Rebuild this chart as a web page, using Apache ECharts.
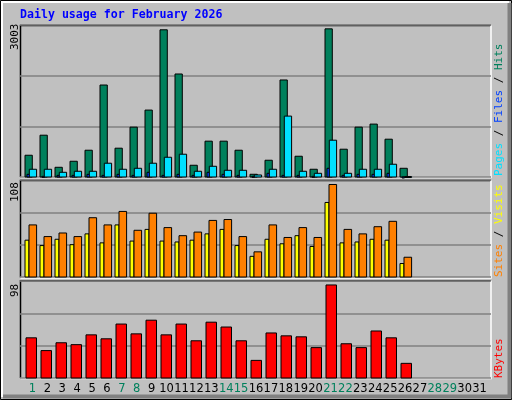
<!DOCTYPE html>
<html><head><meta charset="utf-8">
<script src="https://cdn.jsdelivr.net/npm/echarts@6/dist/echarts.min.js"></script>
<style>html,body{margin:0;padding:0;background:#c0c0c0}#c{width:512px;height:400px}</style>
</head><body><div id="c"></div>
<script>
var days = ['1','2','3','4','5','6','7','8','9','10','11','12','13','14','15','16','17','18','19','20','21','22','23','24','25','26','27','28','29','30','31'];
var weekend = ['1','7','8','14','15','21','22','28','29'];
var hits  = [430,826,192,311,529,1817,569,985,1322,2908,2035,232,708,708,529,54,331,1917,410,153,2927,549,985,1045,747,172];
var files = [53,13,33,33,53,33,53,33,93,33,53,33,93,53,33,13,73,33,33,13,172,33,53,53,73,0];
var pages = [153,153,93,113,113,272,153,172,272,390,450,113,212,133,133,40,153,1203,113,73,727,73,153,153,252,10];
var visits = [41,35,42,36,48,38,58,40,53,40,39,41,48,53,35,23,42,37,46,34,83,38,39,42,41,15];
var sites  = [58,45,49,45,66,58,73,52,71,55,46,50,63,64,45,28,58,44,55,44,103,53,48,56,62,22];
var kbytes = [40.6,27.7,35.6,33.7,43.6,39.6,54.5,44.6,58.4,43.6,54.5,37.6,56.4,51.5,37.6,17.8,45.5,42.6,41.6,30.7,94,34.6,30.7,47.5,40.6,14.8];
var yMaxTop = 3003, yMaxMid = 108, yMaxBot = 98;

function pairs(arr){ return arr.map(function(v,i){ return [i,v]; }); }
function bar(off,w,color){
  return function(params, api){
    var i = api.value(0), v = api.value(1);
    var p = api.coord([i, v]), b = api.coord([i, 0]);
    return {type:'rect', shape:{x:p[0]+off, y:p[1], width:w, height:Math.max(b[1]-p[1],1)},
      style:{fill:color, stroke:'#000', lineWidth:1}};
  };
}
var chart = echarts.init(document.getElementById('c'));
var grids = [
  {left:20, right:21, top:25, height:152},
  {left:20, right:21, top:180, height:97},
  {left:20, right:21, top:281, height:97},
  {left:25, width:462, top:378, height:1}
];
function xv(g){ return {type:'value', gridIndex:g, min:-1/3, max:-1/3+471/15, show:false}; }
function yv(g,max,iv){ return {type:'value', gridIndex:g, min:0, max:max, interval:iv,
  axisLine:{show:false}, axisTick:{show:false}, axisLabel:{show:false},
  splitLine:{show:true, lineStyle:{color:'#808080', width:1.5}}}; }
var wk = {}; weekend.forEach(function(d){ wk[d]=1; });
chart.setOption({
  animation:false,
  backgroundColor:'#c0c0c0',
  grid: grids,
  xAxis: [xv(0), xv(1), xv(2),
    {type:'category', gridIndex:3, data:days, axisLine:{show:false}, axisTick:{show:false},
     axisLabel:{margin:4, interval:0, fontFamily:'DejaVu Sans', fontSize:11.5,
       formatter:function(v){ return wk[v] ? '{g|'+v+'}' : '{b|'+v+'}'; },
       rich:{g:{color:'#00805c', fontFamily:'DejaVu Sans', fontSize:11.5}, b:{color:'#000', fontFamily:'DejaVu Sans', fontSize:11.5}}}}],
  yAxis: [yv(0,yMaxTop,1001), yv(1,yMaxMid,36), yv(2,yMaxBot,yMaxBot/3), {type:'value', gridIndex:3, show:false}],
  series: [
    {type:'custom', xAxisIndex:0, yAxisIndex:0, data:pairs(hits), renderItem:bar(0,7.3,'#00805c')},
    {type:'custom', xAxisIndex:0, yAxisIndex:0, data:pairs(files), renderItem:bar(2,2.5,'#0040ff')},
    {type:'custom', xAxisIndex:0, yAxisIndex:0, data:pairs(pages), renderItem:bar(4.3,7.3,'#00e0ff')},
    {type:'custom', xAxisIndex:1, yAxisIndex:1, data:pairs(visits), renderItem:bar(0,4,'#ffff00')},
    {type:'custom', xAxisIndex:1, yAxisIndex:1, data:pairs(sites), renderItem:bar(4,7.6,'#ff8000')},
    {type:'custom', xAxisIndex:2, yAxisIndex:2, data:pairs(kbytes), renderItem:bar(1,10.5,'#ff0000')}
  ],
  graphic: [
    {type:'rect', z:-1, shape:{x:0.5,y:0.5,width:511,height:399}, style:{fill:'none', stroke:'#000', lineWidth:1}},
    {type:'polyline', shape:{points:[[2,397],[2,2],[509,2]]}, style:{stroke:'#fff', lineWidth:2, fill:'none'}},
    {type:'polyline', shape:{points:[[3,396.5],[509.5,396.5],[509.5,3]]}, style:{stroke:'#808080', lineWidth:4, fill:'none'}},
    {type:'text', x:20, y:9, style:{text:'Daily usage for February 2026', fill:'#0000ff', font:'bold 11.6px "DejaVu Sans Mono"'}},
    // panel frames
    {type:'polyline', shape:{points:[[20.5,177],[20.5,25.5],[491,25.5]]}, style:{stroke:'#000', lineWidth:1.5, fill:'none'}},
    {type:'polyline', shape:{points:[[20.5,177.5],[491,177.5],[491,25.5]]}, style:{stroke:'#fff', lineWidth:1.5, fill:'none'}},
    {type:'polyline', shape:{points:[[20.5,277.5],[20.5,180.5],[491,180.5]]}, style:{stroke:'#000', lineWidth:1.5, fill:'none'}},
    {type:'polyline', shape:{points:[[20.5,278],[491,278],[491,180.5]]}, style:{stroke:'#fff', lineWidth:1.5, fill:'none'}},
    {type:'polyline', shape:{points:[[20.5,378],[20.5,280.8],[491,280.8]]}, style:{stroke:'#000', lineWidth:1.5, fill:'none'}},
    {type:'polyline', shape:{points:[[20.5,378.5],[491,378.5],[491,280.8]]}, style:{stroke:'#fff', lineWidth:1.5, fill:'none'}},
    // y max labels
    {type:'text', x:10, y:50, rotation:Math.PI/2, style:{text:String(yMaxTop), fill:'#000', font:'11px "DejaVu Sans Mono"', textVerticalAlign:'top'}},
    {type:'text', x:10, y:202, rotation:Math.PI/2, style:{text:String(yMaxMid), fill:'#000', font:'11px "DejaVu Sans Mono"', textVerticalAlign:'top'}},
    {type:'text', x:10, y:297, rotation:Math.PI/2, style:{text:String(yMaxBot), fill:'#000', font:'11px "DejaVu Sans Mono"', textVerticalAlign:'top'}},
    // right legends
    {type:'text', x:494, y:176, rotation:Math.PI/2, style:{text:'{p|Pages}{s| / }{f|Files}{s| / }{h|Hits}', textVerticalAlign:'top', font:'11px "DejaVu Sans Mono"',
      rich:{p:{fill:'#00e0ff',font:'11px "DejaVu Sans Mono"'}, f:{fill:'#0040ff',font:'11px "DejaVu Sans Mono"'}, h:{fill:'#00805c',font:'11px "DejaVu Sans Mono"'}, s:{fill:'#000',font:'11px "DejaVu Sans Mono"'}}}},
    {type:'text', x:494, y:277, rotation:Math.PI/2, style:{text:'{o|Sites}{s| / }{y|Visits}', textVerticalAlign:'top', font:'11px "DejaVu Sans Mono"',
      rich:{o:{fill:'#ff8000',font:'11px "DejaVu Sans Mono"'}, y:{fill:'#ffff00',font:'11px "DejaVu Sans Mono"'}, s:{fill:'#000',font:'11px "DejaVu Sans Mono"'}}}},
    {type:'text', x:494, y:378, rotation:Math.PI/2, style:{text:'KBytes', fill:'#ff0000', textVerticalAlign:'top', font:'11px "DejaVu Sans Mono"'}}
  ]
});
</script></body></html>
